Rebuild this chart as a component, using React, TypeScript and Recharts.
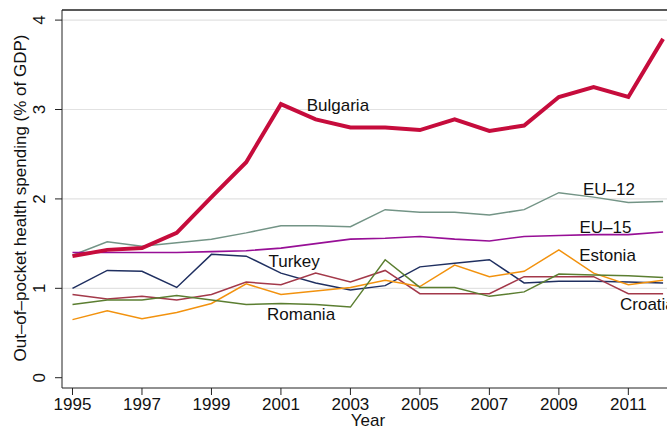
import { LineChart, Line, XAxis, YAxis, ReferenceLine, ReferenceDot } from 'recharts'

const years = [1995, 1996, 1997, 1998, 1999, 2000, 2001, 2002, 2003, 2004, 2005, 2006, 2007, 2008, 2009, 2010, 2011, 2012]

const bulgaria = [1.36, 1.43, 1.45, 1.62, 2.02, 2.41, 3.06, 2.89, 2.8, 2.8, 2.77, 2.89, 2.76, 2.82, 3.14, 3.25, 3.14, 3.79]
const eu12 = [1.37, 1.52, 1.47, 1.51, 1.55, 1.62, 1.7, 1.7, 1.69, 1.88, 1.85, 1.85, 1.82, 1.88, 2.07, 2.02, 1.96, 1.97]
const eu15 = [1.4, 1.4, 1.4, 1.4, 1.41, 1.42, 1.45, 1.5, 1.55, 1.56, 1.58, 1.55, 1.53, 1.58, 1.59, 1.6, 1.6, 1.63]
const turkey = [1.0, 1.2, 1.19, 1.01, 1.38, 1.36, 1.17, 1.06, 0.98, 1.03, 1.24, 1.28, 1.32, 1.06, 1.08, 1.08, 1.07, 1.06]
const croatia = [0.93, 0.88, 0.91, 0.87, 0.93, 1.07, 1.04, 1.17, 1.07, 1.2, 0.94, 0.94, 0.94, 1.13, 1.13, 1.13, 0.94, 0.94]
const estonia = [0.65, 0.75, 0.66, 0.73, 0.83, 1.05, 0.93, 0.97, 1.01, 1.09, 1.02, 1.26, 1.13, 1.19, 1.43, 1.17, 1.04, 1.09]
const romania = [0.82, 0.87, 0.87, 0.92, 0.87, 0.82, 0.83, 0.82, 0.79, 1.32, 1.01, 1.01, 0.91, 0.96, 1.16, 1.15, 1.14, 1.12]

const xTicks = [1995, 1997, 1999, 2001, 2003, 2005, 2007, 2009, 2011]
const yTicks = [0, 1, 2, 3, 4]
const gridValues = [1, 2, 3, 4]

// text labels placed in data coordinates (like stata's text())
const labelNames = ['Bulgaria', 'EU\u201312', 'EU\u201315', 'Estonia', 'Turkey', 'Romania', 'Croatia']
const labelYears = [2002.64, 2010.44, 2010.34, 2010.4, 2001.38, 2001.58, 2010.76]
const labelValues = [2.98, 2.04, 1.615, 1.306, 1.238, 0.651, 0.752]

const data = years.map((year, i) => ({
    year,
    bulgaria: bulgaria[i],
    eu12: eu12[i],
    eu15: eu15[i],
    turkey: turkey[i],
    croatia: croatia[i],
    estonia: estonia[i],
    romania: romania[i],
}))

const series = [
    { key: 'eu12', color: '#739486', width: 1.5 },
    { key: 'eu15', color: '#970f96', width: 1.6 },
    { key: 'turkey', color: '#1f2f60', width: 1.5 },
    { key: 'croatia', color: '#a3394a', width: 1.5 },
    { key: 'estonia', color: '#f2920e', width: 1.5 },
    { key: 'romania', color: '#5b7e31', width: 1.5 },
    { key: 'bulgaria', color: '#c60c3c', width: 4 },
]

const X_MIN = 1994.698
const X_MAX = 2012.343
const Y_MIN = -0.115
const Y_MAX = 4.113
const FONT = '"Liberation Sans", Arial, Helvetica, sans-serif'
const AXIS = '#222'

const YTick = (props: any) => {
    const { x, y, payload } = props
    return (
        <text x={x} y={y} transform={`rotate(-90 ${x} ${y})`} textAnchor="middle" fontSize={17} fill="#111">
            {payload.value}
        </text>
    )
}

export default function App() {
    return (
        <div style={{ width: 667, height: 429, overflow: 'hidden', position: 'relative', background: '#fff', fontFamily: FONT }}>
            <style>{`body{margin:0}`}</style>
            <LineChart width={675} height={429} data={data} margin={{ top: 10, right: 0, bottom: 0, left: 0 }}>
                {gridValues.map((v) => (
                    <ReferenceLine key={v} y={v} stroke="#e2e2e2" strokeWidth={1.2} />
                ))}
                <ReferenceLine y={Y_MAX} stroke={AXIS} strokeWidth={1.3} />
                <XAxis
                    dataKey="year"
                    type="number"
                    domain={[X_MIN, X_MAX]}
                    allowDataOverflow
                    ticks={xTicks}
                    height={41}
                    tickSize={7}
                    tickMargin={3}
                    stroke={AXIS}
                    tick={{ fill: '#111', fontSize: 17 }}
                    label={{
                        content: () => (
                            <text x={368} y={426} textAnchor="middle" fontSize={17} fill="#111">
                                Year
                            </text>
                        ),
                    }}
                />
                <YAxis
                    type="number"
                    domain={[Y_MIN, Y_MAX]}
                    allowDataOverflow
                    ticks={yTicks}
                    width={62}
                    tickSize={7}
                    tickMargin={10}
                    stroke={AXIS}
                    tick={<YTick />}
                    label={{
                        content: () => (
                            <text x={26} y={198} transform="rotate(-90 26 198)" textAnchor="middle" fontSize={17} fill="#111">
                                Out–of–pocket health spending (% of GDP)
                            </text>
                        ),
                    }}
                />
                {series.map((s) => (
                    <Line
                        key={s.key}
                        type="linear"
                        dataKey={s.key}
                        stroke={s.color}
                        strokeWidth={s.width}
                        dot={false}
                        activeDot={false}
                        isAnimationActive={false}
                    />
                ))}
                {labelNames.map((name, i) => (
                    <ReferenceDot
                        key={name}
                        x={labelYears[i]}
                        y={labelValues[i]}
                        r={0}
                        ifOverflow="visible"
                        shape={(p: any) => (
                            <text
                                x={p.cx}
                                y={p.cy}
                                textAnchor={name === 'Croatia' ? 'start' : 'middle'}
                                fontSize={17}
                                fill="#111"
                            >
                                {name}
                            </text>
                        )}
                    />
                ))}
            </LineChart>
        </div>
    )
}
